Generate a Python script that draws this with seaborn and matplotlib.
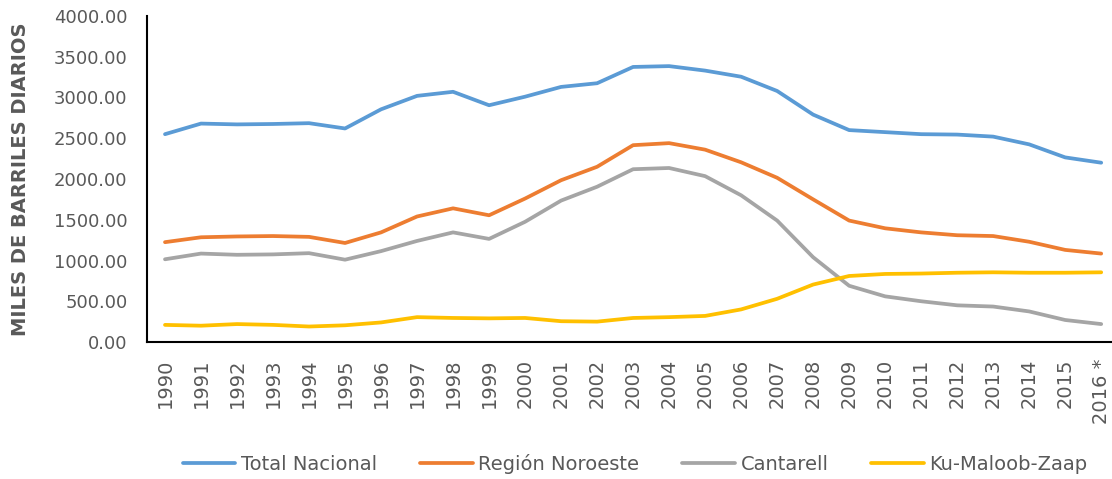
import pandas as pd
import matplotlib.pyplot as plt
import seaborn as sns

years = ["1990", "1991", "1992", "1993", "1994", "1995", "1996", "1997", "1998", "1999",
         "2000", "2001", "2002", "2003", "2004", "2005", "2006", "2007", "2008", "2009",
         "2010", "2011", "2012", "2013", "2014", "2015", "2016 *"]

total_nacional = [2550, 2680, 2670, 2675, 2685, 2620, 2855, 3020, 3070, 2905,
                  3010, 3130, 3175, 3375, 3385, 3330, 3255, 3080, 2790, 2600,
                  2575, 2550, 2545, 2520, 2425, 2265, 2200]
region_noroeste = [1225, 1285, 1295, 1300, 1290, 1215, 1345, 1540, 1640, 1555,
                   1760, 1985, 2150, 2415, 2440, 2360, 2205, 2015, 1750, 1490,
                   1395, 1345, 1310, 1300, 1230, 1130, 1085]
cantarell = [1015, 1085, 1070, 1075, 1090, 1010, 1115, 1240, 1345, 1265,
             1475, 1735, 1905, 2120, 2135, 2035, 1800, 1490, 1040, 690,
             560, 500, 450, 435, 375, 270, 220]
ku_maloob_zaap = [210, 200, 220, 210, 190, 205, 240, 305, 295, 290,
                  295, 255, 250, 295, 305, 320, 400, 530, 705, 810,
                  835, 840, 850, 855, 850, 850, 855]

series_names = ["Total Nacional", "Región Noroeste", "Cantarell", "Ku-Maloob-Zaap"]
colores = ["#5B9BD5", "#ED7D31", "#A5A5A5", "#FFC000"]

filas = []
for nombre, valores in zip(series_names, [total_nacional, region_noroeste, cantarell, ku_maloob_zaap]):
    for i, v in enumerate(valores):
        filas.append({"pos": i, "valor": v, "serie": nombre})
df = pd.DataFrame(filas)

sns.set_style("white")
plt.rcParams['font.family'] = ['DejaVu Sans']
gris_txt = "#595959"

fig = plt.figure(figsize=(11.12, 4.79), dpi=100)
ax = fig.add_axes([147 / 1112, 137 / 479, (1112 - 147) / 1112, (342 - 16) / 479])

sns.lineplot(data=df, x="pos", y="valor", hue="serie", palette=colores,
             hue_order=series_names, linewidth=2.7, ax=ax, legend=True)

ax.set_xlim(-0.5, 26.3)
ax.set_ylim(0, 4000)
ax.set_yticks(range(0, 4001, 500))
ax.set_yticklabels([f"{v:.2f}" for v in range(0, 4001, 500)], fontsize=13, color=gris_txt)

ax.set_xticks(range(len(years)))
ax.set_xticklabels(years, rotation=90, fontsize=14, color=gris_txt)
ax.set_xticks([i + 0.5 for i in range(len(years) - 1)], minor=True)
ax.tick_params(axis="x", which="major", length=0, pad=12)
ax.tick_params(axis="x", which="minor", direction="in", length=6, width=1.3, color="black")
ax.tick_params(axis="y", direction="in", length=6, width=1.3, color="black", pad=14)

ax.set_xlabel("")
ax.set_ylabel("MILES DE BARRILES DIARIOS", fontsize=14, fontweight="bold", color=gris_txt, labelpad=17)

sns.despine(ax=ax)
for s in ["left", "bottom"]:
    ax.spines[s].set_color("black")
    ax.spines[s].set_linewidth(1.5)

ax.legend(loc="center", bbox_to_anchor=(0.506, -0.375), ncol=4, frameon=False,
          fontsize=14, handlelength=2.7, handletextpad=0.3, columnspacing=2.2,
          labelcolor=gris_txt)

fig.savefig("out.png", dpi=100)
